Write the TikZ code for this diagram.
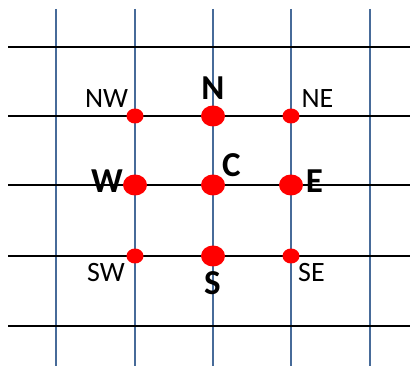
\documentclass[tikz,border=0pt]{standalone}
\usepackage{fontspec}
\setmainfont{Carlito}
\usepackage{tikz}
\usetikzlibrary{shapes.geometric, positioning}

\begin{document}
\begin{tikzpicture}[
  x=1pt, y=-1pt,
  line cap=butt,
  vline/.style={draw={rgb,255:red,71;green,107;blue,153}, line width=2pt},
  hline/.style={draw=black, line width=2.5pt},
  bigdot/.style={ellipse, fill=red, inner sep=0pt,
                 minimum width=24pt, minimum height=21pt},
  smalldot/.style={ellipse, fill=red, inner sep=0pt,
                   minimum width=17pt, minimum height=15pt},
  biglab/.style={font=\fontsize{35}{35}\selectfont\bfseries,
                 inner sep=0pt, anchor=base},
  smalllab/.style={font=\fontsize{28}{28}\selectfont,
                   inner sep=0pt, anchor=base}
]
\useasboundingbox (0,0) rectangle (410,366);
\def\xL{135}
\def\xC{213}
\def\xR{291}
\def\yT{116}
\def\yM{185}
\def\yB{256}
% grid
\foreach \x in {56,135,213,291,370}
  \draw[vline] (\x,9) -- (\x,366);
\foreach \y in {47,116,185,256,326}
  \draw[hline] (8,\y) -- (410,\y);
% stencil points
\node[smalldot] (nw) at (\xL,\yT) {};
\node[bigdot]   (n)  at (\xC,\yT) {};
\node[smalldot] (ne) at (\xR,\yT) {};
\node[bigdot]   (w)  at (\xL,\yM) {};
\node[bigdot]   (c)  at (\xC,\yM) {};
\node[bigdot]   (e)  at (\xR,\yM) {};
\node[smalldot] (sw) at (\xL,\yB) {};
\node[bigdot]   (s)  at (\xC,\yB) {};
\node[smalldot] (se) at (\xR,\yB) {};
% labels
\node[biglab]   (nLab)  at (213,100)   {N};
\node[biglab]   (wLab)  at (107,193)   {W};
\node[biglab]   (eLab)  at (314.5,193) {E};
\node[biglab]   (cLab)  at (231.5,177) {C};
\node[biglab]   (sLab)  at (212.5,295) {S};
\node[smalllab] (nwLab) at (106.5,108) {NW};
\node[smalllab] (neLab) at (317.5,108) {NE};
\node[smalllab] (swLab) at (106,282)   {SW};
\node[smalllab] (seLab) at (311.5,282) {SE};
\end{tikzpicture}
\end{document}
